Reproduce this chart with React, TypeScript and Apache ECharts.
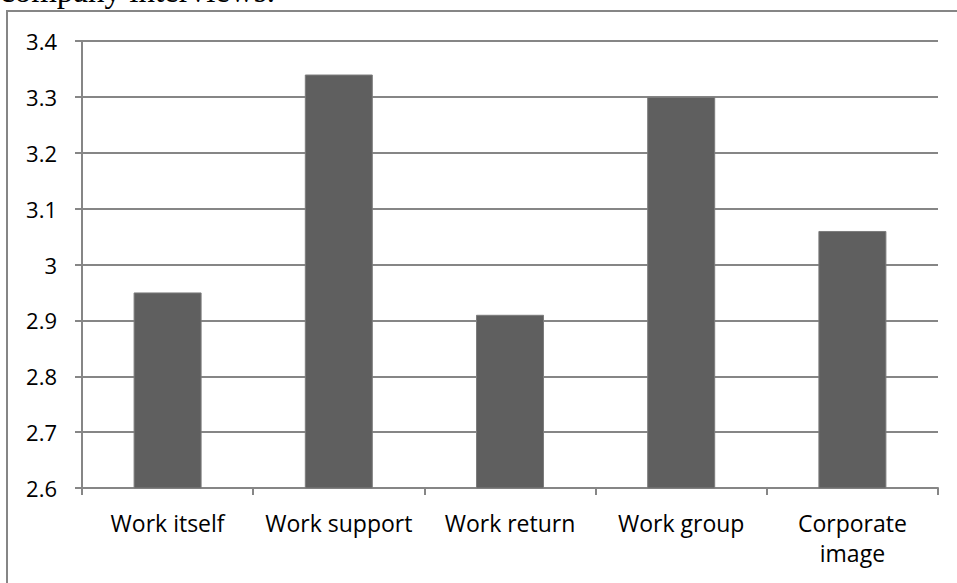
import React, { useEffect, useRef } from "react";
import * as echarts from "echarts";

const categories = ["Work itself", "Work support", "Work return", "Work group", "Corporate\nimage"];
const scores = [2.95, 3.34, 2.91, 3.3, 3.06];
const yMin = 2.6;
const yMax = 3.4;
const yStep = 0.1;
const captionText = "company interviews.";

export default function App() {
  const ref = useRef<HTMLDivElement>(null);

  useEffect(() => {
    if (!ref.current) return;
    const chart = echarts.init(ref.current, undefined, { renderer: "svg" });
    const lineColor = "#868686";
    const font = "'Open Sans', 'Noto Sans', sans-serif";
    chart.setOption({
      animation: false,
      backgroundColor: "#ffffff",
      graphic: [
        {
          type: "text",
          x: 0,
          y: 7,
          style: {
            text: captionText,
            font: "33px 'Liberation Serif', 'DejaVu Serif', serif",
            fill: "#000000",
            verticalAlign: "bottom",
            align: "left",
          },
        },
        {
          type: "rect",
          shape: { x: 7, y: 11, width: 1200, height: 1000 },
          style: { fill: "none", stroke: lineColor, lineWidth: 2 },
          silent: true,
        },
      ],
      grid: { left: 82, right: 19, top: 41, bottom: 95, containLabel: false },
      xAxis: {
        type: "category",
        data: categories,
        axisLine: { show: true, lineStyle: { color: lineColor, width: 2 } },
        axisTick: { show: true, alignWithLabel: false, length: 7, lineStyle: { color: lineColor, width: 2 } },
        axisLabel: {
          color: "#000000",
          fontFamily: font,
          fontSize: 23,
          lineHeight: 30,
          margin: 20,
          interval: 0,
        },
        splitLine: { show: false },
      },
      yAxis: {
        type: "value",
        min: yMin,
        max: yMax,
        interval: yStep,
        axisLine: { show: true, lineStyle: { color: lineColor, width: 2 } },
        axisTick: { show: true, length: 7, lineStyle: { color: lineColor, width: 2 } },
        axisLabel: {
          color: "#000000",
          fontFamily: font,
          fontSize: 22,
          margin: 25,
          formatter: (v: number) => String(Math.round(v * 10) / 10),
        },
        splitLine: { show: true, lineStyle: { color: lineColor, width: 2 } },
      },
      series: [
        {
          type: "bar",
          data: scores,
          barWidth: 68,
          itemStyle: { color: "#5f5f5f", borderColor: "#7c7c7c", borderWidth: 1 },
        },
      ],
    });
    return () => chart.dispose();
  }, []);

  return (
    <div
      ref={ref}
      style={{ position: "fixed", left: 0, top: 0, width: 957, height: 583, background: "#fff" }}
    />
  );
}
